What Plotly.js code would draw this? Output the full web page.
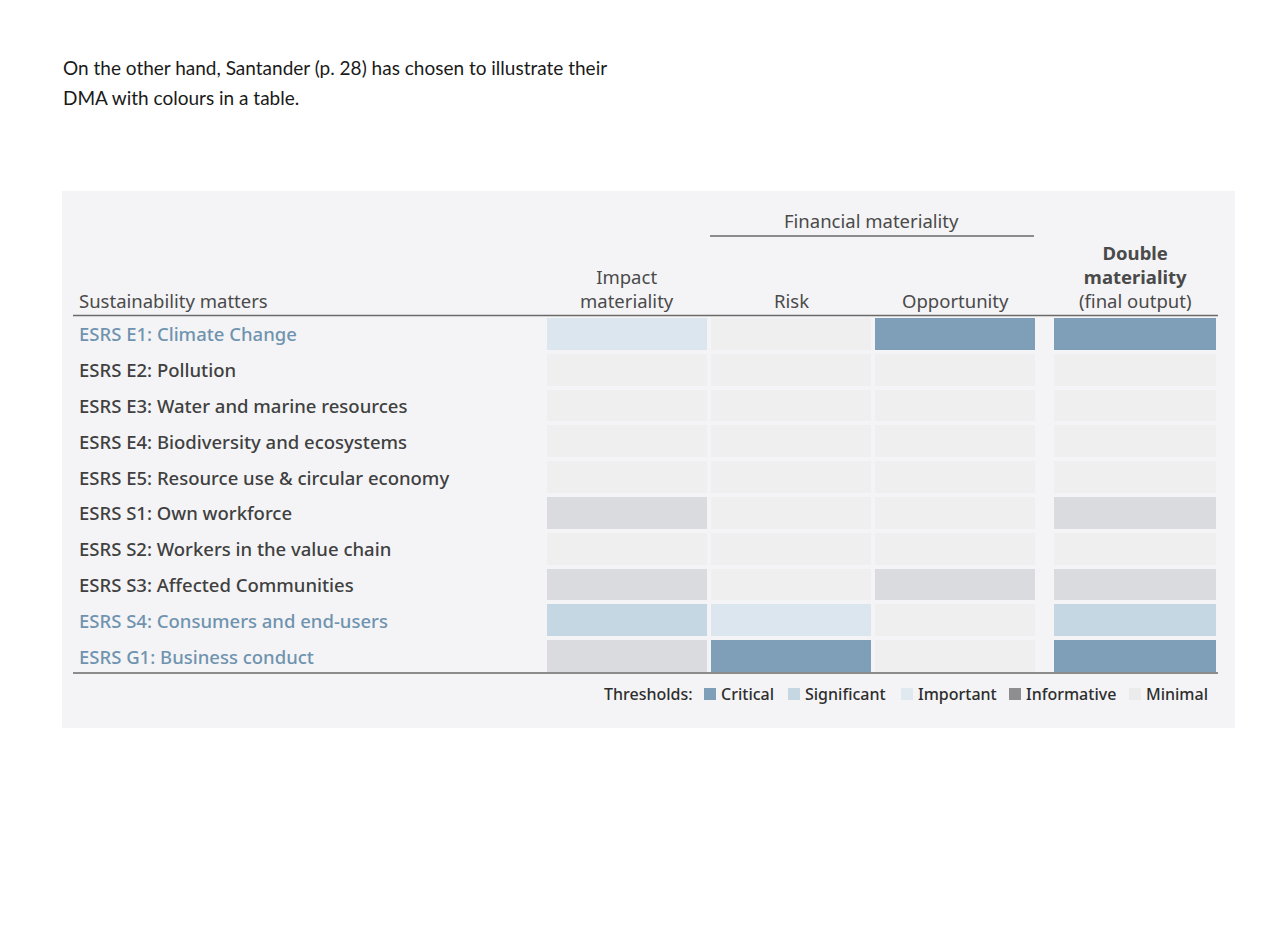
<!DOCTYPE html>
<html>
<head>
<meta charset="utf-8">
<script src="https://cdn.plot.ly/plotly-3.0.1.min.js"></script>
<style>
html,body{margin:0;padding:0;background:#ffffff;}
#chart{width:1288px;height:947px;}
</style>
</head>
<body>
<div id="chart"></div>
<script>
// ---------------- data ----------------
const categories = [
  'ESRS E1: Climate Change',
  'ESRS E2: Pollution',
  'ESRS E3: Water and marine resources',
  'ESRS E4: Biodiversity and ecosystems',
  'ESRS E5: Resource use & circular economy',
  'ESRS S1: Own workforce',
  'ESRS S2: Workers in the value chain',
  'ESRS S3: Affected Communities',
  'ESRS S4: Consumers and end-users',
  'ESRS G1: Business conduct'
];
const columns = ['Impact materiality', 'Risk', 'Opportunity'];
const finalColumn = ['Double materiality (final output)'];
const thresholds = ['Critical', 'Significant', 'Important', 'Informative', 'Minimal'];

const impactMateriality = ['Important','Minimal','Minimal','Minimal','Minimal','Informative','Minimal','Informative','Significant','Informative'];
const risk              = ['Minimal','Minimal','Minimal','Minimal','Minimal','Minimal','Minimal','Minimal','Important','Critical'];
const opportunity       = ['Critical','Minimal','Minimal','Minimal','Minimal','Minimal','Minimal','Informative','Minimal','Minimal'];
const doubleMateriality = ['Critical','Minimal','Minimal','Minimal','Minimal','Informative','Minimal','Informative','Significant','Critical'];
const highlighted = ['ESRS E1: Climate Change','ESRS S4: Consumers and end-users','ESRS G1: Business conduct'];

// ---------------- styles ----------------
const W = 1288, H = 947;
const px = x => x / W;
const py = y => 1 - y / H;

// level order for colour scale: Minimal(0) .. Critical(4)
const levelOrder = ['Minimal','Informative','Important','Significant','Critical'];
const cellColors = {Minimal:'#efeff0', Informative:'#dadbde', Important:'#dce6ef', Significant:'#c6d7e4', Critical:'#7f9eb7'};
const swatchColors = {Critical:'#7f9eb7', Significant:'#c6d7e4', Important:'#e0e8f0', Informative:'#8e8e90', Minimal:'#ebebec'};
const colorscale = levelOrder.map((l,i)=>[i/(levelOrder.length-1), cellColors[l]]);
const lvl = v => levelOrder.indexOf(v);

const tableFont = '"Noto Sans", "Open Sans", sans-serif';
const textDark = '#404040';
const textBlue = '#6f93af';

// ---------------- traces ----------------
const z1 = categories.map((c,i)=>[lvl(impactMateriality[i]), lvl(risk[i]), lvl(opportunity[i])]);
const z2 = categories.map((c,i)=>[lvl(doubleMateriality[i])]);

const common = {type:'heatmap', y:categories, colorscale, zmin:0, zmax:4, showscale:false, xgap:4, ygap:4, hoverinfo:'skip'};
const traces = [
  Object.assign({}, common, {x:columns, z:z1, xaxis:'x', yaxis:'y'}),
  Object.assign({}, common, {x:finalColumn, z:z2, xaxis:'x2', yaxis:'y'})
];

// ---------------- annotations ----------------
const ann = [];
// intro text
const introFont = {family:'Lato, "Open Sans", sans-serif', size:19, color:'#1a1a1a'};
ann.push({xref:'paper', yref:'paper', x:px(61), y:py(68), xanchor:'left', yanchor:'middle', showarrow:false, align:'left',
  text:'On the other hand, Santander (p. 28) has chosen to illustrate their', font:introFont});
ann.push({xref:'paper', yref:'paper', x:px(61), y:py(97), xanchor:'left', yanchor:'middle', showarrow:false, align:'left',
  text:'DMA with colours in a table.', font:introFont});

// header
const hf = {family:tableFont, size:18.5, color:'#4a4a4a'};
ann.push({xref:'paper', yref:'paper', x:px(77), y:py(300), xanchor:'left', yanchor:'middle', showarrow:false, text:'Sustainability matters', font:hf});
ann.push({xref:'paper', yref:'paper', x:px(872), y:py(220), xanchor:'center', yanchor:'middle', showarrow:false, text:'Financial materiality', font:hf});
ann.push({xref:'x', yref:'paper', x:columns[0], y:py(288), xanchor:'center', yanchor:'middle', showarrow:false, text:'Impact<br>materiality', font:hf});
ann.push({xref:'x', yref:'paper', x:columns[1], y:py(300), xanchor:'center', yanchor:'middle', showarrow:false, text:'Risk', font:hf});
ann.push({xref:'x', yref:'paper', x:columns[2], y:py(300), xanchor:'center', yanchor:'middle', showarrow:false, text:'Opportunity', font:hf});
ann.push({xref:'x2', yref:'paper', x:finalColumn[0], y:py(276), xanchor:'center', yanchor:'middle', showarrow:false,
  text:'<b>Double</b><br><b>materiality</b><br>(final output)', font:hf});

// row labels
categories.forEach(c=>{
  ann.push({xref:'paper', yref:'y', x:px(77), y:c, xanchor:'left', yanchor:'middle', showarrow:false, text:c,
    font:{family:tableFont, size:18.5, weight:500, color: highlighted.includes(c) ? textBlue : textDark}});
});

// legend
const legendSwatchX = [704, 788, 901, 1009, 1129];
const lf = {family:tableFont, size:16, weight:500, color:'#2e2e2e'};
ann.push({xref:'paper', yref:'paper', x:px(695), y:py(694), xanchor:'right', yanchor:'middle', showarrow:false, text:'Thresholds:', font:lf});
const shapes = [];
// panel background
shapes.push({type:'rect', xref:'paper', yref:'paper', x0:px(62), x1:px(1235), y0:py(728), y1:py(191), fillcolor:'#f4f4f6', line:{width:0}, layer:'below'});
thresholds.forEach((t,i)=>{
  const x0 = legendSwatchX[i];
  shapes.push({type:'rect', xref:'paper', yref:'paper', x0:px(x0), x1:px(x0+12), y0:py(700), y1:py(688), fillcolor:swatchColors[t], line:{width:0}});
  ann.push({xref:'paper', yref:'paper', x:px(x0+15), y:py(694), xanchor:'left', yanchor:'middle', showarrow:false, text:t, font:lf});
});
// lines
shapes.push({type:'line', xref:'paper', yref:'paper', x0:px(73), x1:px(1218), y0:py(315.5), y1:py(315.5), line:{color:'#6a6a6a', width:1.5}});
shapes.push({type:'line', xref:'paper', yref:'paper', x0:px(73), x1:px(1218), y0:py(673), y1:py(673), line:{color:'#6a6a6a', width:1.5}, layer:'below'});
shapes.push({type:'line', xref:'paper', yref:'paper', x0:px(710), x1:px(1034), y0:py(236), y1:py(236), line:{color:'#6a6a6a', width:1.5}});

const layout = {
  width:W, height:H,
  margin:{l:0, r:0, t:0, b:0},
  paper_bgcolor:'#ffffff',
  plot_bgcolor:'rgba(0,0,0,0)',
  showlegend:false,
  xaxis:{domain:[px(545), px(1037)], type:'category', categoryarray:columns, showticklabels:false, showgrid:false, zeroline:false, showline:false, ticks:''},
  xaxis2:{domain:[px(1052), px(1218)], type:'category', showticklabels:false, showgrid:false, zeroline:false, showline:false, ticks:'', anchor:'y'},
  yaxis:{domain:[py(674), py(316)], type:'category', categoryarray:categories, autorange:'reversed', showticklabels:false, showgrid:false, zeroline:false, showline:false, ticks:''},
  annotations:ann,
  shapes:shapes
};

Plotly.newPlot('chart', traces, layout, {displayModeBar:false, staticPlot:true});
</script>
</body>
</html>
